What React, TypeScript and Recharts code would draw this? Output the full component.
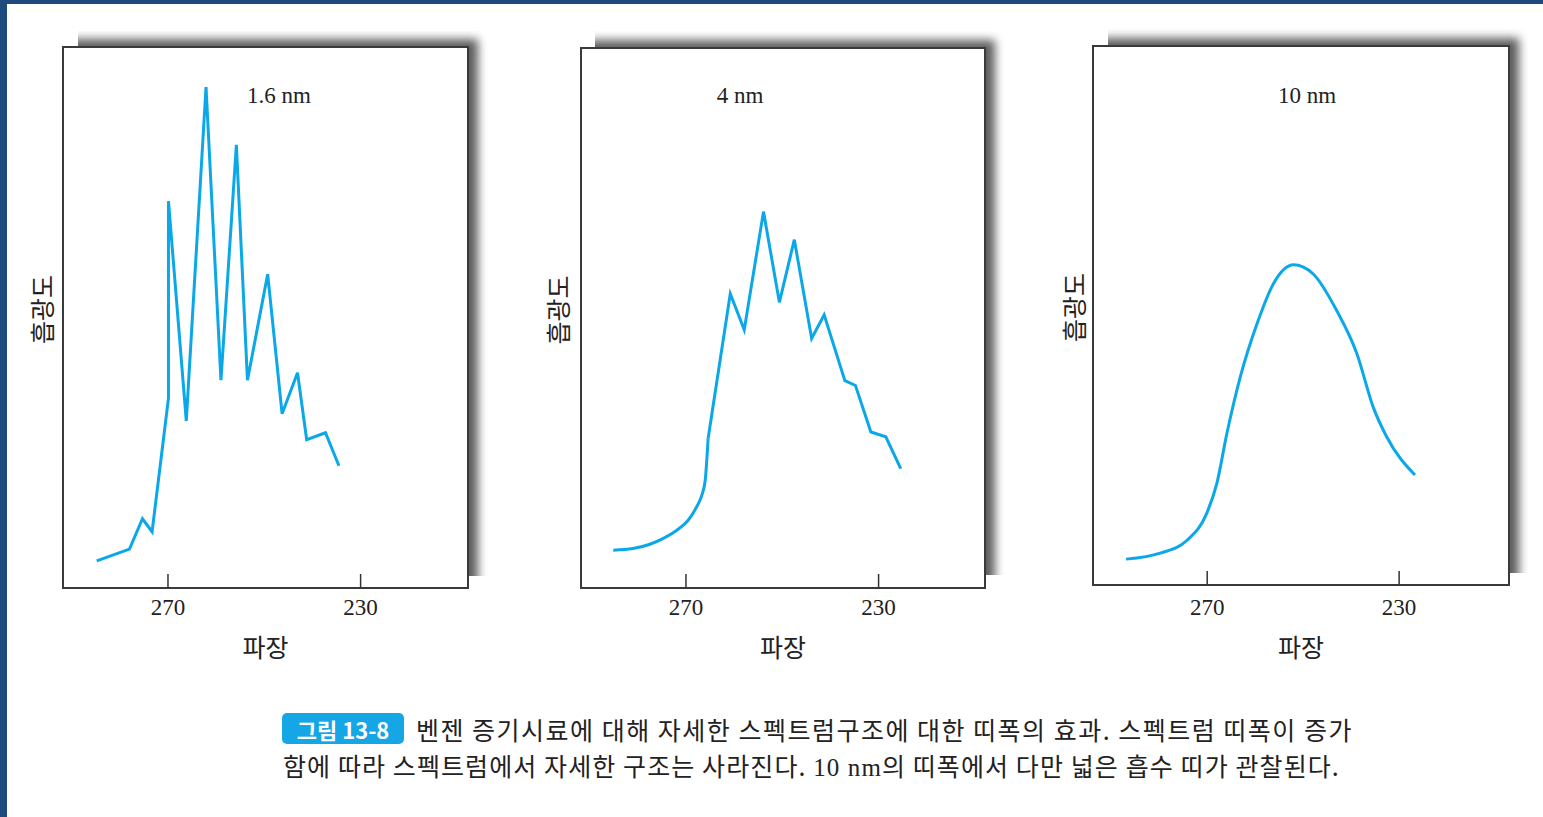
import React from 'react';
import { LineChart, Line, XAxis, YAxis } from 'recharts';

// 1.6 nm slit width: wavelength (nm) and relative intensity (0-100)
const wl16 = [284.8, 278.0, 275.3, 273.3, 269.9, 269.9, 266.2, 262.1, 259.0, 255.8, 253.5, 249.3, 246.3, 243.1, 241.2, 237.3, 234.5];
const int16 = [5.0, 7.2, 12.8, 10.4, 35.1, 71.5, 30.9, 92.6, 38.4, 81.9, 38.4, 58.0, 32.2, 39.8, 27.4, 28.7, 22.6];

// 4 nm: smooth rising foot, then the jagged band
const wl4Base = [285.1, 281.0, 277.5, 274.7, 271.9, 269.5, 267.8, 266.7, 266.0, 265.4];
const int4Base = [7.0, 7.3, 8.1, 9.2, 10.7, 12.6, 15.0, 17.2, 20.0, 27.7];
const wl4Peaks = [265.4, 260.8, 257.9, 253.9, 250.6, 247.5, 243.9, 241.3, 237.0, 234.8, 231.6, 228.5, 225.4];
const int4Peaks = [27.7, 54.5, 47.8, 69.7, 52.9, 64.5, 46.2, 50.6, 38.4, 37.5, 28.9, 28.0, 22.1];

// 10 nm: one broad band
const wl10 = [286.9, 279.8, 274.2, 270.1, 268.0, 265.9, 263.1, 259.6, 256.2, 252.0, 247.9, 243.0, 238.8, 235.4, 232.6, 226.7];
const int10 = [4.8, 5.9, 8.3, 13.3, 18.8, 28.1, 38.6, 48.5, 55.9, 59.4, 57.7, 50.9, 42.9, 33.0, 27.5, 20.4];

const xTicks = [270, 230];
const titles = ['1.6 nm', '4 nm', '10 nm'];

const zip = (xs: number[], ys: number[]) => xs.map((wl, i) => ({ wl, v: ys[i] }));

const LINE = '#0aa8e8';
const INK = '#222';
const SERIF = '"Liberation Serif", "DejaVu Serif", serif';
const KR = '"Noto Sans CJK KR", "Noto Sans", sans-serif';
const AXIS_H = 110;

type Series = { data: { wl: number; v: number }[]; curve: 'linear' | 'monotone' };

const panels: {
  title: string; fx: number; fy: number; fw: number; fh: number; domain: [number, number];
  yw: number; titleX: number; shift: number; shadow: { x: number; y: number; r: number; b: number }; series: Series[];
}[] = [
  {
    title: titles[0], fx: 63, fy: 47, fw: 405, fh: 541, domain: [207.7, 291.8], yw: 44, titleX: 279, shift: 0,
    shadow: { x: 78, y: 31, r: 488, b: 576 },
    series: [{ data: zip(wl16, int16), curve: 'linear' }],
  },
  {
    title: titles[1], fx: 581, fy: 48, fw: 404, fh: 540, domain: [207.9, 291.8], yw: 48, titleX: 740, shift: 0,
    shadow: { x: 595, y: 31, r: 1006, b: 575 },
    series: [
      { data: zip(wl4Base, int4Base), curve: 'monotone' },
      { data: zip(wl4Peaks, int4Peaks), curve: 'linear' },
    ],
  },
  {
    title: titles[2], fx: 1093, fy: 46, fw: 416, fh: 539, domain: [207.1, 293.8], yw: 40, titleX: 1307, shift: 3,
    shadow: { x: 1108, y: 28, r: 1528, b: 573 },
    series: [{ data: zip(wl10, int10), curve: 'monotone' }],
  },
];

const AxisTick = (props: any) => {
  const { x, y, payload, shift = 0 } = props;
  return (
    <g>
      <line x1={x} x2={x} y1={y} y2={y - 14} stroke="#333" strokeWidth={1.5} />
      <text x={x} y={y + 27 + shift} textAnchor="middle" fontFamily={SERIF} fontSize={23} fill={INK}>
        {payload.value}
      </text>
    </g>
  );
};

const XLabel = (props: any) => {
  const { viewBox, shift = 0 } = props;
  const cx = viewBox.x + viewBox.width / 2;
  return (
    <text x={cx} y={viewBox.y + 69 + shift} textAnchor="middle" fontFamily={KR} fontSize={25} fill={INK}>
      파장
    </text>
  );
};

const YLabel = (props: any) => {
  const { viewBox } = props;
  const cx = viewBox.x + viewBox.width / 2;
  const cy = viewBox.y + viewBox.height / 2 - 8;
  return (
    <text x={cx} y={cy} transform={`rotate(-90, ${cx}, ${cy})`} textAnchor="middle" dominantBaseline="central" fontFamily={KR} fontSize={25} fill={INK}>
      흡광도
    </text>
  );
};

function Shadow({ s, fx, fy, fw }: { s: { x: number; y: number; r: number; b: number }; fx: number; fy: number; fw: number }) {
  const innerTop = fy - s.y - 8;
  const innerRight = fx + fw + 10 - s.x;
  return (
    <div style={{ position: 'absolute', left: s.x, top: s.y, width: s.r - s.x, height: s.b - s.y, overflow: 'hidden', background: '#fff' }}>
      <div style={{ position: 'absolute', left: -60, top: innerTop, width: innerRight + 60, height: 800, background: '#5e5e5e', filter: 'blur(5px)' }} />
    </div>
  );
}

function Panel({ p }: { p: (typeof panels)[number] }) {
  return (
    <>
      <Shadow s={p.shadow} fx={p.fx} fy={p.fy} fw={p.fw} />
      <div style={{ position: 'absolute', left: p.fx - 1, top: p.fy - 1, width: p.fw + 2, height: p.fh + 2, border: '2px solid #3a3a3a', boxSizing: 'border-box', background: '#fff' }} />
      <div style={{ position: 'absolute', left: p.fx - p.yw, top: p.fy }}>
        <LineChart width={p.yw + p.fw} height={p.fh + AXIS_H} margin={{ top: 0, right: 0, bottom: 0, left: 0 }}>
          <XAxis
            dataKey="wl"
            type="number"
            domain={p.domain}
            allowDataOverflow
            reversed
            ticks={xTicks}
            height={AXIS_H}
            axisLine={false}
            tickLine={false}
            tickSize={0}
            tickMargin={0}
            tick={<AxisTick shift={p.shift} />}
            label={<XLabel shift={p.shift} />}
          />
          <YAxis
            type="number"
            domain={[0, 100]}
            width={p.yw}
            tick={false}
            axisLine={false}
            tickLine={false}
            label={<YLabel />}
          />
          {p.series.map((s, i) => (
            <Line
              key={i}
              data={s.data}
              dataKey="v"
              type={s.curve}
              stroke={LINE}
              strokeWidth={3}
              dot={false}
              activeDot={false}
              isAnimationActive={false}
            />
          ))}
        </LineChart>
      </div>
      <div style={{ position: 'absolute', left: p.titleX, top: 84, transform: 'translateX(-50%)', fontFamily: SERIF, fontSize: 23, lineHeight: 1, color: INK, whiteSpace: 'nowrap' }}>
        {p.title}
      </div>
    </>
  );
}

export default function App() {
  const caption: React.CSSProperties = { position: 'absolute', fontFamily: KR, fontSize: 25, lineHeight: 1, color: INK, whiteSpace: 'nowrap' };
  return (
    <div style={{ position: 'relative', width: 1543, height: 817, background: '#fff', overflow: 'hidden' }}>
      <style>{'body{margin:0}'}</style>
      <div style={{ position: 'absolute', left: 0, top: 0, width: 1543, height: 4, background: '#1f4a7e' }} />
      <div style={{ position: 'absolute', left: 0, top: 0, width: 7, height: 817, background: '#1f4a7e' }} />
      {panels.map((p, i) => (
        <Panel key={i} p={p} />
      ))}
      <div style={{ position: 'absolute', left: 282, top: 713, width: 122, height: 31, borderRadius: 5, background: '#15a6e6', color: '#fff', fontFamily: KR, fontWeight: 700, fontSize: 22, display: 'flex', alignItems: 'center', justifyContent: 'center', whiteSpace: 'nowrap' }}>
        그림 13-8
      </div>
      <div style={{ ...caption, letterSpacing: 1.5, left: 416, top: 717 }}>
        벤젠 증기시료에 대해 자세한 스펙트럼구조에 대한 띠폭의 효과. 스펙트럼 띠폭이 증가
      </div>
      <div style={{ ...caption, letterSpacing: 1.1, left: 283, top: 753 }}>
        함에 따라 스펙트럼에서 자세한 구조는 사라진다. <span style={{ fontFamily: SERIF }}>10 nm</span>의 띠폭에서 다만 넓은 흡수 띠가 관찰된다.
      </div>
    </div>
  );
}
